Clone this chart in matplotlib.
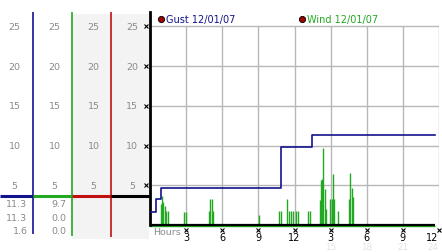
import matplotlib
matplotlib.use("Agg")
import matplotlib.pyplot as plt
import matplotlib.transforms as mtransforms

# data (hours since midnight, mph)
gust_hours = [0, 0.52, 0.94, 10.9, 13.43, 23.7]
gust_speed = [1.6, 3.3, 4.7, 9.8, 11.3, 11.3]

wind_hours = [0.89, 1.0, 1.08, 1.22, 1.35, 1.5,
              2.85, 2.97,
              4.92, 4.98, 5.12, 5.2,
              9.08,
              10.74, 10.86, 11.4, 11.54, 11.71, 11.9, 12.1, 12.32,
              13.15, 13.29,
              14.1, 14.2, 14.3, 14.4, 14.5, 14.6,
              14.95, 15.09, 15.22, 15.3, 15.64,
              16.55, 16.62, 16.75, 16.89]
wind_speed = [2.6, 3.7, 2.9, 2.4, 1.7, 1.7,
              1.6, 1.6,
              1.7, 3.3, 3.3, 1.7,
              1.2,
              1.7, 1.7, 3.3, 1.7, 1.7, 1.7, 1.7, 1.7,
              1.7, 1.7,
              3.1, 5.6, 5.8, 9.7, 4.5, 2.0,
              3.3, 3.3, 6.4, 3.3, 1.7,
              3.3, 6.5, 4.7, 3.5]
wind_end = 23.7

y_ticks = [5, 10, 15, 20, 25]
hour_ticks = [3, 6, 9, 12, 15, 18, 21, 24]
hour_labels = ["3", "6", "9", "12", "3", "6", "9", "12"]
faint_hours = [15, 18, 21, 24]
faint_labels = ["15", "18", "21", "24"]
gust_stats = ["11.3", "11.3", "1.6"]
wind_stats = ["9.7", "0.0", "0.0"]
ref_level = 3.7

BLUE = "#12128c"
GREEN = "#22a822"
RED = "#c01010"
GRID = "#b8b8b8"
LABEL = "#8a8a8a"

W, H = 442, 253
x0, x1 = 150, 439        # plot area, px from left
y_base, y_top = 226, 13  # px from top
ymax = 26.8

fig = plt.figure(figsize=(W / 100, H / 100), dpi=100)

# ---- left panel with the scale columns ----
PX = (y_base - y_top) / ymax
axL = fig.add_axes([0, 0, x0 / W, 1])
axL.set_xlim(0, x0)
axL.set_ylim(-(H - y_base) / PX, ymax + y_top / PX)
axL.axis("off")

axL.fill_between([72, 149], -1.76, 26.5, color="#f3f3f3", lw=0, zorder=0)
axL.vlines(33, -1.13, ymax, color=BLUE, lw=1.2)
axL.vlines(72, -1.4, ymax, color=GREEN, lw=1.2)
axL.vlines(111, -1.5, ymax, color=RED, lw=1.2)
axL.hlines([ref_level] * 4, [0, 33, 72, 111], [33, 72, 111, 149],
           colors=[BLUE, GREEN, RED, "black"], lw=2.2, zorder=3)

for cx in [14.5, 54.5, 93.5, 132]:
    for v in y_ticks:
        axL.text(cx, v, str(v), ha="center", va="center", color=LABEL, fontsize=6.8)

rows = [2.65, 1.0, -0.75]
for ry, g, w in zip(rows, gust_stats, wind_stats):
    axL.text(27.5, ry, g, ha="right", va="center", color=LABEL, fontsize=6.8)
    axL.text(66.5, ry, w, ha="right", va="center", color=LABEL, fontsize=6.8)

# ---- main chart ----
ax = fig.add_axes([x0 / W, (H - y_base) / H, (x1 - x0) / W, (y_base - y_top) / H])
ax.set_xlim(0, 24)
ax.set_ylim(0, ymax)
ax.patch.set_alpha(0)
for s in ["top", "right", "bottom"]:
    ax.spines[s].set_visible(False)
ax.spines["left"].set_linewidth(2)
ax.set_xticks([])
ax.set_yticks([])

ax.hlines(y_ticks, 0, 24, color=GRID, lw=1, zorder=1)
ax.vlines(hour_ticks, 0, 25, color=GRID, lw=1, zorder=1)

ax.vlines(wind_hours, 0, wind_speed, color=GREEN, lw=1, zorder=2)
ax.hlines(-0.15, 0, wind_end, color=GREEN, lw=1, clip_on=False, zorder=2)
ax.hlines(0, 0, wind_end, color="black", lw=1.6, clip_on=False, zorder=3)
ax.step(gust_hours, gust_speed, where="post", color=BLUE, lw=1.2, zorder=4)

# little tick crosses
tr_y = mtransforms.blended_transform_factory(ax.transAxes, ax.transData)
ax.plot([-0.013] * len(y_ticks), y_ticks, "x", ms=2.6, mew=0.8, color="black",
        transform=tr_y, clip_on=False)
tr_x = mtransforms.blended_transform_factory(ax.transData, ax.transAxes)
ax.plot(hour_ticks, [-0.024] * len(hour_ticks), "x", ms=2.6, mew=0.8, color="black",
        transform=tr_x, clip_on=False)

# hour labels; the last one is pushed inside the figure edge
for hx, lab in zip(hour_ticks, hour_labels):
    last = hx == hour_ticks[-1]
    ax.text(23.97 if last else hx, -0.055, lab, ha="right" if last else "center",
            va="center", fontsize=7, transform=tr_x, clip_on=False)
for hx, lab in zip(faint_hours, faint_labels):
    last = hx == faint_hours[-1]
    ax.text(23.97 if last else hx, -0.1, lab, ha="right" if last else "center",
            va="center", fontsize=6.3, color="#e2e2e2", transform=tr_x, clip_on=False)
ax.text(0.25, -0.03, "Hours", ha="left", va="center", fontsize=6.8, color=LABEL,
        transform=tr_x, clip_on=False)

# legend entries
ax.plot([0.89], [25.9], "o", ms=4.5, mfc="#a00000", mec="black", mew=0.6, clip_on=False)
ax.text(1.3, 25.9, "Gust 12/01/07", ha="left", va="center", fontsize=7, color=BLUE)
ax.plot([12.62], [25.9], "o", ms=4.5, mfc="#a00000", mec="black", mew=0.6, clip_on=False)
ax.text(13.0, 25.9, "Wind 12/01/07", ha="left", va="center", fontsize=7, color=GREEN)

fig.savefig("out.png", dpi=100)
